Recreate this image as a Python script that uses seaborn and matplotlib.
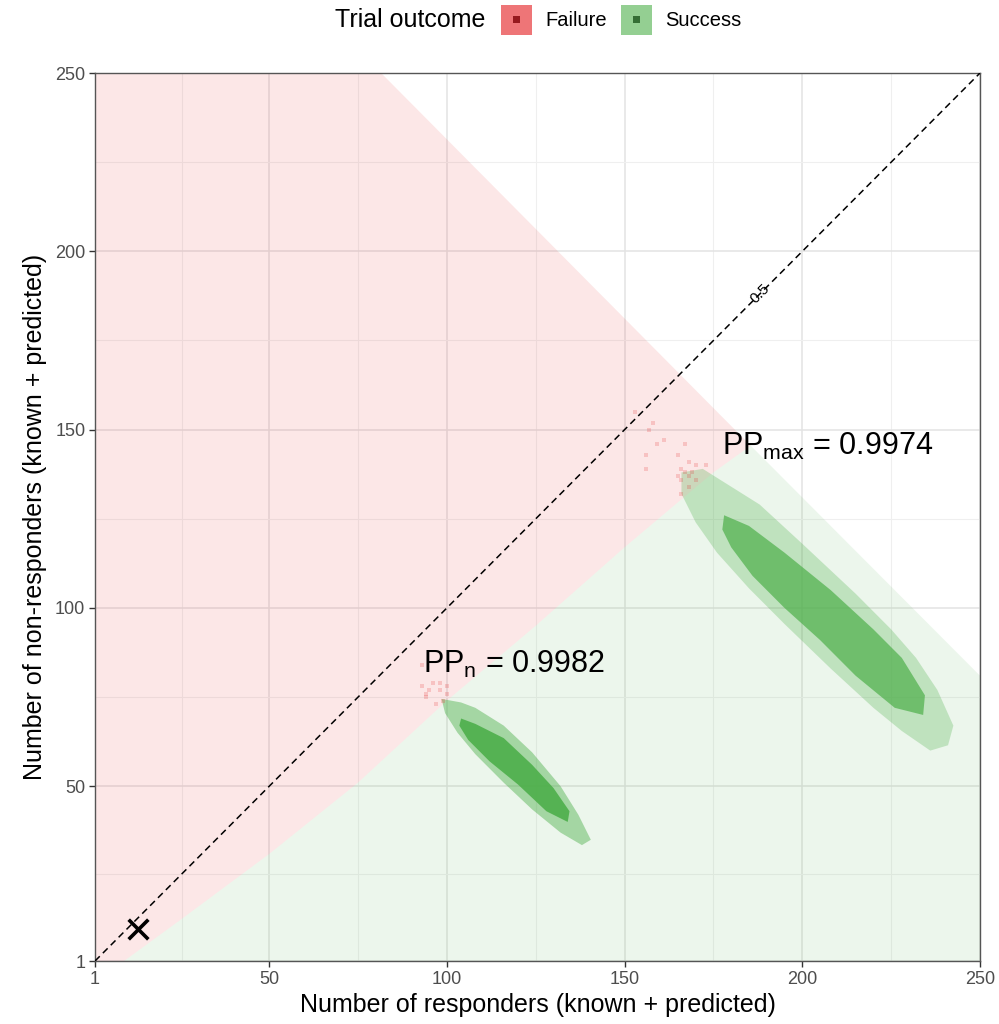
import numpy as np
import pandas as pd
import matplotlib.pyplot as plt
import seaborn as sns
from matplotlib.patches import Rectangle

sns.set_theme(style='whitegrid')
plt.rcParams['font.family'] = ['Liberation Sans', 'DejaVu Sans']
plt.rcParams['mathtext.default'] = 'regular'
plt.rcParams['text.color'] = 'black'
plt.rcParams['axes.labelcolor'] = 'black'

# ---- data ----
# failure / success boundary of the decision tiles
boundary_x = [8.5, 25, 50, 75, 100, 125, 150, 175, 185.5]
boundary_y = [0.5, 12.5, 31, 51, 74, 95, 117, 138, 145.5]
# outer edge of the shaded area (maximum sample size)
edge_x = [81, 185.5, 250.5]
edge_y = [250, 145.5, 80.5]

# predicted outcomes at interim n (outline of the cloud, sparse + dense part)
small_halo_x = [98.5, 104, 108, 116, 124, 132, 137, 140.5, 138, 132, 124, 116, 108, 103, 99.5]
small_halo_y = [74.5, 73.5, 72, 67, 59.5, 50, 42, 35, 33.5, 37, 43.5, 51, 59, 65, 70.5]
small_core_x = [104, 108, 116, 124, 130, 134.5, 134, 128, 120, 112, 106, 103.5]
small_core_y = [69, 67.5, 63.5, 56, 49.5, 43, 40, 43, 50.5, 57, 63, 67]

# predicted outcomes at maximum sample size
large_halo_x = [166, 172, 180, 188, 200, 215, 225, 232, 238, 242.5, 241, 236, 228, 220, 208, 195, 185, 176, 170, 166]
large_halo_y = [138, 139, 134, 129, 118, 104, 94, 86, 77, 67, 61.5, 60, 65.5, 72, 83, 95.5, 105.5, 115.5, 124, 132]
large_core_x = [178, 185, 195, 208, 220, 228, 234.5, 234, 226, 215, 205, 195, 186, 180, 177.5]
large_core_y = [126, 123, 115.5, 105, 94, 86, 75.5, 70, 72, 81, 91, 100, 109, 117, 122]

# the few predicted trials that end in failure
fail_x = [93, 93, 95, 98, 98, 100, 94, 97, 99, 96, 94, 100,
          153, 158, 157, 161, 159, 167, 156, 165, 168, 170, 173, 156,
          165, 168, 166, 170, 168, 166, 167, 169, 166]
fail_y = [84, 78, 77, 79, 77, 78, 75, 73, 74, 79, 76, 76,
          155, 152, 150, 147, 146, 146, 143, 143, 141, 140, 140, 139,
          137, 137, 136, 136, 134, 132, 138, 138, 139]

observed_x = [13]
observed_y = [10]

diag = pd.DataFrame({'x': [1, 250], 'y': [1, 250]})
fails = pd.DataFrame({'x': fail_x, 'y': fail_y})

red = '#E41A1C'
green = '#4DAF4A'

fig = plt.figure(figsize=(9.99, 10.24), dpi=100)
ax = fig.add_axes([0.0951, 0.0615, 0.8859, 0.8672])

# tiles: failure region and success region
fail_poly_x = [0.5, 8.5] + boundary_x[1:] + [81, 0.5]
fail_poly_y = [0.5, 0.5] + boundary_y[1:] + [250.5, 250.5]
ax.fill(fail_poly_x, fail_poly_y, color=red, alpha=0.1, lw=0, zorder=1)
succ_poly_x = boundary_x + edge_x[1:] + [250.5]
succ_poly_y = boundary_y + edge_y[1:] + [0.5]
ax.fill(succ_poly_x, succ_poly_y, color=green, alpha=0.1, lw=0, zorder=1)

# clouds of predicted outcomes
ax.fill(small_halo_x, small_halo_y, color=green, alpha=0.45, lw=0, zorder=2)
ax.fill(small_core_x, small_core_y, color=green, alpha=0.9, lw=0, zorder=2)
ax.fill(large_halo_x, large_halo_y, color=green, alpha=0.28, lw=0, zorder=2)
ax.fill(large_core_x, large_core_y, color=green, alpha=0.7, lw=0, zorder=2)

sns.scatterplot(data=fails, x='x', y='y', marker='s', s=10, color=red,
                alpha=0.18, linewidth=0, ax=ax, zorder=3)

# diagonal 0.5 line
sns.lineplot(data=diag, x='x', y='y', color='black', lw=1.1, ax=ax, zorder=4)
ax.lines[-1].set_dashes((4.4, 2.9))
ax.text(188, 188, '0.5', rotation=45, ha='center', va='center', fontsize=11,
        color='black', zorder=5)

# observed data
sns.scatterplot(x=observed_x, y=observed_y, marker='x', s=200, color='black',
                linewidth=2.6, ax=ax, zorder=6)

ax.text(93.3, 81.8, r'PP$_{n}$ = 0.9982', fontsize=22, ha='left', va='baseline', zorder=7)
ax.text(177.4, 142.9, r'PP$_{max}$ = 0.9974', fontsize=22, ha='left', va='baseline', zorder=7)

ax.set_xlim(1, 250)
ax.set_ylim(1, 250)
ticks = [1, 50, 100, 150, 200, 250]
ax.set_xticks(ticks)
ax.set_yticks(ticks)
ax.set_xticks([25.5, 75, 125, 175, 225], minor=True)
ax.set_yticks([25.5, 75, 125, 175, 225], minor=True)
ax.grid(which='major', color='#E3E3E3', lw=1.1)
ax.grid(which='minor', color='#EFEFEF', lw=0.8)
ax.set_axisbelow(True)
ax.tick_params(axis='both', which='major', labelsize=13, labelcolor='#4D4D4D',
               length=4, width=1, color='#333333', direction='out', pad=3,
               bottom=True, left=True)
ax.tick_params(axis='both', which='minor', length=0)
for s in ax.spines.values():
    s.set_color('#555555')
    s.set_linewidth(1.0)
    s.set_visible(True)

ax.set_xlabel('Number of responders (known + predicted)', fontsize=18, labelpad=4)
ax.set_ylabel('Number of non-responders (known + predicted)', fontsize=18, labelpad=6)

# legend at the top
fig.text(0.335, 0.980, 'Trial outcome', fontsize=18, ha='left', va='center')
key_colors = [(red, '#961A1E'), (green, '#356E35')]
key_labels = ['Failure', 'Success']
key_x = [0.5015, 0.6216]
for kx, (c_fill, c_pt), lab in zip(key_x, key_colors, key_labels):
    fig.add_artist(Rectangle((kx, 0.9658), 0.031, 0.0293, transform=fig.transFigure,
                             facecolor=c_fill, alpha=0.6, lw=0))
    fig.add_artist(Rectangle((kx + 0.0155 - 0.0035, 0.9805 - 0.0034), 0.007, 0.0068,
                             transform=fig.transFigure, facecolor=c_pt, lw=0))
    fig.text(kx + 0.044, 0.980, lab, fontsize=14.5, ha='left', va='center')

plt.savefig('out.png', dpi=100)
plt.close()
